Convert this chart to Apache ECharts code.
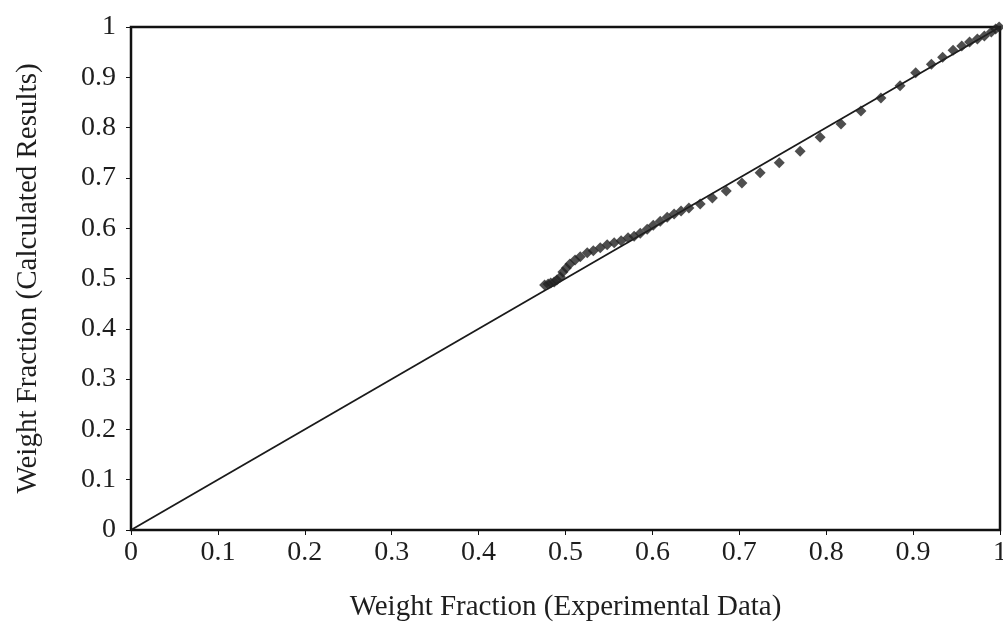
<!DOCTYPE html>
<html>
<head>
<meta charset="utf-8">
<script src="https://cdn.jsdelivr.net/npm/echarts@6/dist/echarts.min.js"></script>
<style>
  html, body { margin: 0; padding: 0; background: #fff; }
  #chart { width: 1003px; height: 630px; }
</style>
</head>
<body>
<div id="chart"></div>
<script>
// experimental vs calculated weight fraction
const expData = [0.476, 0.480, 0.483, 0.487, 0.490, 0.494, 0.497, 0.501, 0.505, 0.511,
  0.517, 0.525, 0.532, 0.540, 0.548, 0.556, 0.564, 0.572, 0.579, 0.586,
  0.594, 0.601, 0.609, 0.617, 0.625, 0.633, 0.642, 0.655, 0.669, 0.685,
  0.703, 0.724, 0.746, 0.770, 0.793, 0.817, 0.840, 0.863, 0.885, 0.903,
  0.921, 0.934, 0.946, 0.956, 0.965, 0.974, 0.982, 0.990, 0.995, 0.999]
const calcData = [0.487, 0.489, 0.491, 0.493, 0.497, 0.503, 0.513, 0.521, 0.529, 0.537,
  0.543, 0.551, 0.555, 0.561, 0.567, 0.571, 0.575, 0.581, 0.584, 0.590,
  0.598, 0.606, 0.614, 0.622, 0.628, 0.634, 0.640, 0.648, 0.660, 0.674,
  0.690, 0.710, 0.730, 0.753, 0.781, 0.807, 0.833, 0.859, 0.883, 0.909,
  0.926, 0.940, 0.954, 0.962, 0.970, 0.976, 0.982, 0.990, 0.996, 1.000]
const parityLine = [[0, 0], [1, 1]]

const font = '"Liberation Serif", "DejaVu Serif", serif'

const chart = echarts.init(document.getElementById('chart'))

const axisCommon = {
  type: 'value',
  min: 0,
  max: 1,
  interval: 0.1,
  splitLine: { show: false },
  axisLine: { show: true, lineStyle: { color: '#111', width: 2 } },
  axisTick: { show: true, length: 5, lineStyle: { color: '#111', width: 1 } },
  nameLocation: 'middle',
  nameTextStyle: { fontFamily: font, fontSize: 29, color: '#1e1e1e' }
}

const labelFmt = v => String(+v.toFixed(1))

chart.setOption({
  animation: false,
  grid: {
    left: 131,
    right: 3,
    top: 27,
    bottom: 100,
    outerBoundsMode: 'none',
    show: true,
    borderColor: '#111',
    borderWidth: 2.5
  },
  xAxis: Object.assign({}, axisCommon, {
    name: 'Weight Fraction (Experimental Data)',
    nameGap: 63,
    axisLabel: { fontFamily: font, fontSize: 28, color: '#1e1e1e', margin: 9, formatter: labelFmt }
  }),
  yAxis: Object.assign({}, axisCommon, {
    name: 'Weight Fraction (Calculated Results)',
    nameGap: 88,
    axisLabel: { fontFamily: font, fontSize: 28, color: '#1e1e1e', margin: 15, formatter: labelFmt }
  }),
  series: [{
    type: 'line',
    data: parityLine,
    symbol: 'none',
    lineStyle: { color: '#1a1a1a', width: 1.8 },
    z: 2
  }, {
    type: 'scatter',
    data: expData.map((x, i) => [x, calcData[i]]),
    symbol: 'diamond',
    symbolSize: 11,
    itemStyle: { color: '#222' },
    z: 3
  }]
})
</script>
</body>
</html>
